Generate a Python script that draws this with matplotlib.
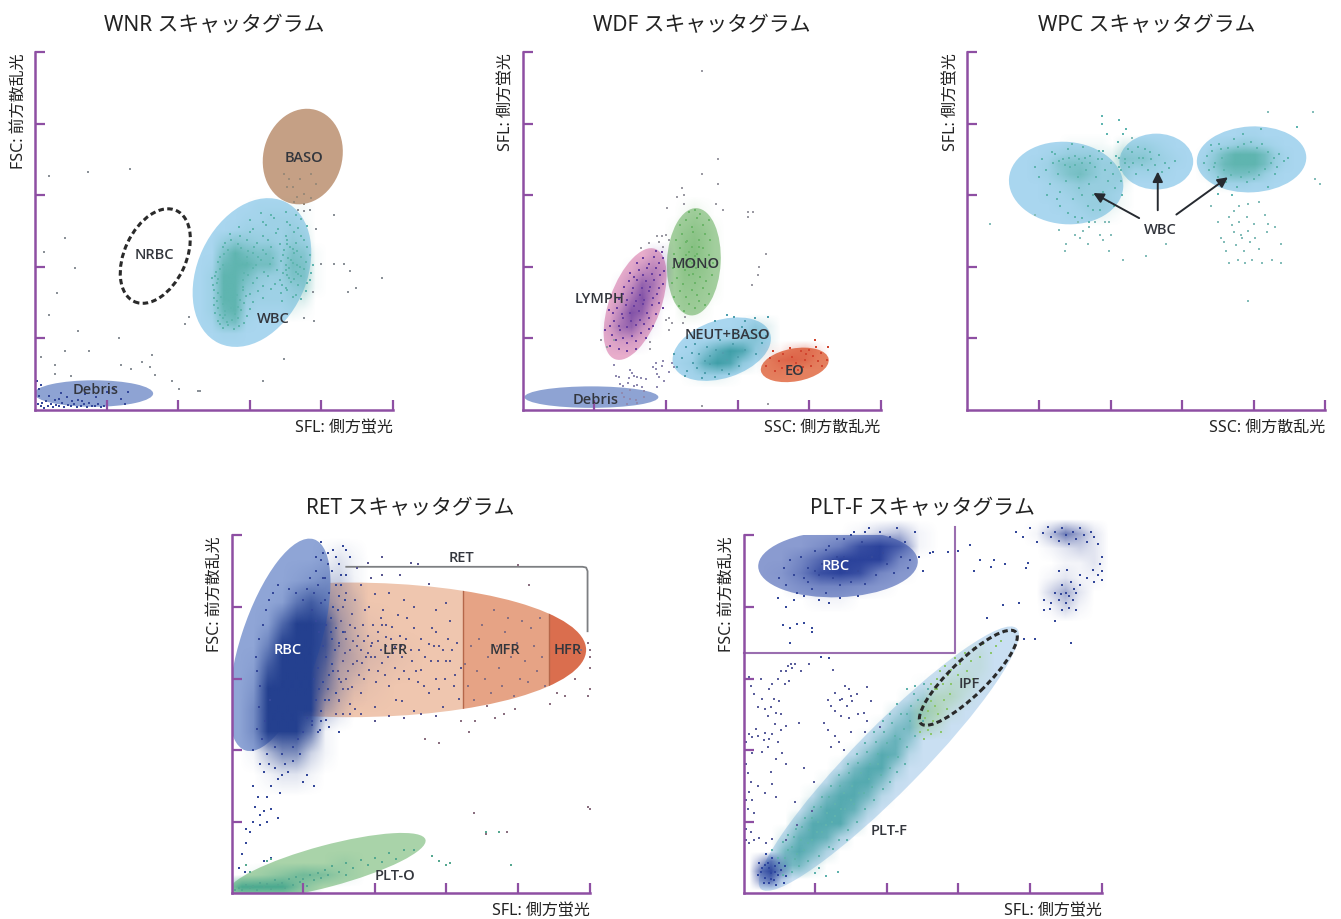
import matplotlib
matplotlib.use('Agg')
import matplotlib.pyplot as plt
import numpy as np
from matplotlib.colors import to_rgb
from matplotlib.patches import Ellipse, Rectangle

plt.rcParams['font.family'] = ['Noto Sans', 'Noto Sans CJK JP', 'DejaVu Sans']

# all values, both axes run 0-500, ticks every 100
ticks = [100, 200, 300, 400, 500]

# --- WNR ---
wnr_stray = [(19,327),(74,333),(133,337),(42,240),(13,220),(56,199),(31,164),(20,132),(60,110),(117,100),(42,83),(76,83),
             (9,74),(28,63),(28,50),(50,47),(120,63),(134,57),(150,67),(164,77),(160,60),(167,49),(192,41),(201,29),(227,27),
             (231,27),(209,120),(215,130),(319,41),(348,71),(375,129),(389,124),(418,272),(392,253),(399,204),(418,204),
             (432,204),(440,194),(448,171),(437,165),(485,185),(388,165),(368,280),(376,278),(384,279)]
wnr_baso = [(348,330),(355,322),(360,312),(370,322),(375,302),(385,330),(392,316),(366,298),(385,296),(375,288),(352,312),(362,290)]
wnr_debris = [(4,8),(8,5),(12,3),(15,12),(18,6),(22,9),(25,4),(28,14),(30,7),(34,5),(38,10),(40,4),(44,18),(46,7),(50,5),(54,9),
              (58,4),(60,14),(64,6),(68,8),(72,4),(76,10),(80,6),(84,5),(88,8),(92,4),(96,6),(100,12),(20,20),(36,24),(70,22),
              (110,30),(125,9),(130,25),(6,20),(3,40),(8,35),(6,30),(120,15),(100,25),(85,18),(10,10),(33,16),(52,13),(66,12)]
wnr_wbc = [(262,115),(270,119),(278,113),(285,117),(255,124),(262,128),(268,123),(275,126),(283,129),(292,122),(252,136),(258,132),
           (265,138),(280,134),(288,139),(296,131),(250,146),(256,142),(262,148),(284,144),(292,149),(300,141),(250,156),(254,152),
           (260,158),(286,154),(295,159),(304,151),(318,156),(345,152),(360,158),(372,155),(250,167),(255,163),(290,168),(300,162),
           (312,166),(330,169),(344,163),(352,167),(365,161),(378,166),(249,174),(254,178),(291,172),(305,178),(318,173),(335,176),
           (350,171),(358,179),(368,174),(380,177),(252,187),(256,183),(290,182),(298,188),(310,184),(325,187),(342,181),(352,189),
           (362,183),(372,187),(384,182),(253,193),(258,197),(292,192),(305,198),(320,193),(338,196),(346,191),(355,199),(364,193),
           (376,197),(386,192),(256,207),(262,203),(296,206),(308,202),(316,209),(328,204),(344,208),(350,202),(358,209),(366,203),
           (378,207),(388,202),(258,213),(264,218),(296,214),(304,219),(312,213),(322,218),(332,212),(346,217),(354,212),(362,219),
           (372,214),(384,217),(262,227),(270,223),(288,226),(298,222),(306,228),(318,223),(330,227),(348,223),(356,228),(366,222),
           (380,227),(266,233),(274,238),(284,232),(296,238),(310,233),(326,237),(342,232),(352,238),(364,233),(376,237),(272,246),
           (286,243),(300,248),(318,243),(336,247),(350,243),(362,248),(372,243),(285,256),(305,253),(322,258),(340,253),(356,258),
           (368,254),(380,257),(300,266),(318,263),(334,268),(352,263),(372,267),(315,275),(330,272),(350,276),(365,273),(258,120),
           (266,132),(274,142),(282,160),(247,185),(350,196),(360,205),(355,185),(368,190),(345,175),(360,225),(352,232),(370,200)]
wnr_wbc_density = [[0,0,0,0,1,1,1,1,1,0],
                   [0,0,0,1,1,2,2,2,1,0],
                   [0,0,1,2,2,2,2,3,2,0],
                   [0,3,5,4,3,3,2,4,3,0],
                   [0,6,9,7,6,6,3,6,5,1],
                   [1,8,9,9,7,7,3,7,6,1],
                   [2,9,9,7,4,3,3,6,6,1],
                   [2,9,9,5,3,2,2,4,5,1],
                   [2,9,9,3,2,2,2,3,3,0],
                   [2,8,9,2,1,1,1,2,1,0],
                   [1,6,7,1,0,0,0,0,0,0],
                   [0,1,1,0,0,0,0,0,0,0]]

# --- WDF ---
wdf_stray = [(250,473),(273,351),(250,330),(273,315),(222,310),(225,300),(215,298),(225,288),(270,288),(202,282),(280,280),(315,276),(322,277),
             (340,218),(330,200),(328,188),(320,174),(314,270),(250,5),(342,9),(165,226),(176,233),(187,243),(194,243),(200,245),(190,235),(196,228),
             (205,238),(178,95),(178,85),(128,98),(110,98),(118,88),(205,128),(200,126),(208,122),(226,130),(224,122),(205,112)]
wdf_low = [(127,63),(150,56),(152,52),(135,46),(148,44),(155,48),(160,46),(165,44),(172,43),(182,60),(186,57),(195,62),(190,46),(198,40),(188,50),
           (204,53),(196,68),(208,66),(212,60),(186,66),(130,48),(140,33),(160,35),(166,32),(150,28),(155,34),(138,24),(142,18),(150,16),(158,14),(170,26),
           (188,32),(146,8),(160,10),(170,18),(130,14),(136,36),(147,38)]
wdf_lymph = [(125,105),(130,98),(136,112),(140,100),(146,94),(152,104),(158,97),(165,108),(172,100),(176,113),(122,118),(128,125),(134,118),(140,128),
             (146,116),(151,124),(158,119),(164,126),(170,120),(176,128),(182,118),(126,135),(132,142),(138,134),(144,146),(150,136),(156,145),(162,138),
             (168,148),(174,136),(180,146),(186,134),(134,155),(140,162),(146,153),(152,164),(158,152),(164,161),(170,154),(176,166),(182,156),(188,162),
             (142,172),(148,180),(154,170),(160,182),(166,171),(172,180),(178,172),(184,182),(190,170),(196,176),(150,192),(156,186),(162,196),(168,188),
             (174,198),(180,190),(186,198),(192,188),(198,194),(160,206),(168,212),(176,204),(184,214),(190,206),(196,212),(186,222),(194,220),(134,85),
             (122,90),(115,112),(158,85),(145,82),(120,140),(190,150),(196,142)]
wdf_lymph_density = [[0,0,0,0,2,2],
                     [0,0,1,3,4,3],
                     [0,1,3,6,5,2],
                     [0,2,5,7,4,1],
                     [1,4,7,6,2,0],
                     [2,5,6,3,1,0],
                     [1,2,2,1,0,0]]
wdf_mono = [(218,145),(225,138),(232,148),(240,142),(246,152),(254,146),(212,158),(220,166),(228,158),(236,168),(244,160),(252,170),(260,162),
            (208,178),(216,184),(224,176),(232,188),(240,178),(248,186),(256,180),(264,188),(210,198),(218,206),(226,196),(234,208),(242,198),(250,206),
            (258,198),(266,205),(212,218),(220,226),(228,216),(236,228),(244,218),(252,226),(260,216),(214,238),(222,246),(230,236),(238,248),(246,238),
            (254,246),(262,238),(220,258),(228,266),(236,256),(244,268),(252,258),(260,266),(232,276),(240,280),(248,274),(236,205),(232,220),(240,215),
            (230,200),(238,190),(228,235),(246,228)]
wdf_mono_density = [[0,1,2,1,0],
                    [1,3,4,3,1],
                    [1,4,5,3,1],
                    [1,4,4,3,1],
                    [1,3,3,2,1],
                    [0,2,2,1,0]]
wdf_neut = [(215,60),(222,72),(230,54),(238,66),(246,78),(254,52),(262,64),(270,84),(278,56),(286,70),(294,92),(302,62),(310,84),(318,100),(326,78),
            (334,94),(228,88),(240,92),(250,44),(268,46),(288,50),(300,74),(312,108),(322,112),(330,108),(340,104),(310,125),(295,130),(325,128),(342,130),
            (286,132),(268,125),(306,116),(226,48),(212,78),(236,80),(258,88),(276,98),(296,108),(254,68),(262,76),(280,80),(244,58)]
wdf_neut_density = [[0,0,0,0,0,1,3,2],
                    [0,0,0,1,2,3,4,2],
                    [0,1,4,7,9,8,3,1],
                    [1,2,7,9,8,3,1,0],
                    [0,1,2,2,1,0,0,0]]
wdf_eo = [(340,62),(346,72),(352,55),(358,68),(364,78),(370,60),(376,74),(382,66),(388,82),(394,70),(400,84),(406,76),(412,68),(418,62),(350,82),(362,58),
          (374,86),(392,60),(402,62),(410,88),(416,80),(426,88),(408,98),(425,70),(384,56),(396,78)]
wdf_eo_density = [[1,1,3,4,2],
                  [1,4,5,4,1],
                  [1,2,1,0,0]]

# --- WPC ---
wpc_left = [(95,340),(100,325),(105,350),(110,335),(115,315),(120,345),(122,358),(126,330),(130,305),(134,350),(138,320),(140,365),(144,340),(148,295),
            (150,355),(154,325),(156,310),(160,345),(162,368),(166,335),(168,285),(170,315),(172,355),(176,300),(178,340),(180,325),(184,362),(186,280),
            (188,350),(190,305),(192,335),(196,320),(198,290),(200,345),(204,330),(206,310),(208,355),(212,340),(214,320),(216,300),(130,285),(140,275),
            (150,270),(160,268),(170,262),(125,295),(112,300),(118,360),(146,372),(156,350),(164,352),(150,342),(142,352),(172,345),(182,350),(190,362),
            (136,342),(128,348),(160,300),(175,280),(188,295),(205,285),(212,352),(220,345)]
wpc_left_density = [[0,0,0,1,1,1,1,0,0],
                    [0,1,2,3,3,3,2,2,1],
                    [1,2,5,6,6,5,3,3,2],
                    [1,2,4,6,7,5,3,3,3],
                    [0,1,2,3,4,3,3,3,2],
                    [0,1,1,2,3,3,3,2,1],
                    [0,0,1,1,2,3,3,2,1],
                    [0,0,0,1,1,2,2,1,0]]
wpc_mid = [(214,335),(220,350),(226,340),(230,360),(235,330),(240,352),(244,342),(248,365),(252,335),(256,350),(262,342),(268,356),(272,332),(276,345),
           (282,338),(290,348),(238,368),(225,365),(255,360),(232,345),(246,352),(210,375),(218,385),(188,410),(195,386),(188,400),(212,405),(222,392)]
wpc_mid_density = [[3,3,3,2,1,0],
                   [5,5,5,3,2,1],
                   [2,2,2,2,1,0]]
wpc_right = [(330,345),(335,355),(338,335),(342,362),(346,345),(350,325),(352,372),(356,352),(358,335),(362,318),(364,366),(368,328),(372,378),(376,312),
             (378,368),(382,326),(386,372),(390,318),(394,332),(396,374),(400,322),(404,366),(408,328),(412,372),(416,336),(420,360),(424,345),(428,352),
             (432,340),(436,358),(442,348),(448,352),(340,370),(350,302),(370,300),(385,385),(410,392),(430,330),(345,340),(354,364),(460,395),(420,312)]
wpc_right_density = [[0,0,0,0,1,1,0,0,0],
                     [0,1,2,3,4,3,2,1,0],
                     [1,4,7,9,9,9,7,3,1],
                     [2,5,8,9,9,9,7,3,1],
                     [1,3,6,7,7,6,3,1,0],
                     [0,1,2,2,2,1,1,0,0]]
wpc_lower = [(155,262),(158,240),(162,250),(168,232),(170,255),(178,262),(185,245),(190,238),(192,262),(198,262),(200,245),(198,222),(136,222),(138,232),
             (150,245),(128,252),(94,272),(32,260),(278,232),(218,210),(340,285),(350,262),(354,240),(358,235),(362,222),(365,205),(370,258),(372,248),
             (375,230),(378,210),(380,262),(382,245),(384,240),(386,222),(388,205),(390,270),(392,250),(395,235),(398,210),(400,260),(402,240),(408,225),
             (412,205),(416,272),(418,248),(420,260),(425,210),(430,255),(438,232),(438,205),(372,278),(380,285),(392,288),(408,290),(392,152),(365,270),
             (486,322),(492,315),(420,416),(483,416),(250,215),(230,380)]

# --- RET ---
ret_rbc_edge = [(30,200),(35,230),(38,260),(42,215),(46,240),(50,195),(54,270),(40,290),(36,310),(34,330),(38,355),(44,375),(48,395),(52,410),(58,420),(64,430),
                (125,255),(130,270),(134,285),(128,295),(136,305),(140,320),(132,330),(144,340),(140,355),(146,370),(138,385),(142,400),(150,415),(136,420),(130,410),
                (146,430),(152,445),(140,450),(128,440),(120,430),(110,440),(118,450),(125,465),(135,475),(145,470),(155,485),(125,490),(135,460),(115,420),(105,425),
                (100,410),(90,420),(80,425),(125,405),(132,375),(122,365),(118,380),(112,395),(128,345),(120,315),(115,300),(122,285),(118,270),(105,245),(112,235),
                (100,225),(92,215),(85,205),(95,195),(70,195),(60,205),(75,180),(60,175),(52,180),(45,170),(55,150),(65,160),(70,165),(40,180),(85,185),(78,170),
                (30,150),(37,135),(50,135),(68,140),(32,120),(45,115),(55,118),(30,100),(40,110),(20,90),(25,85),(40,95),(50,100),(65,105),(20,70),(15,55),(45,45),
                (55,50),(10,35),(18,30),(100,155),(105,165),(115,150),(124,228),(136,232),(150,225),(132,242),(112,240),(150,350),(155,365),(148,395),(158,410),(152,430),
                (160,445),(165,470),(130,440),(118,470),(142,480),(150,460),(160,480),(128,475),(138,365),(142,310),(150,300),(136,270),(146,280),(125,240),(120,225)]
ret_rbc_density = [[0,0,0,0,0,1,2,1],
                   [0,0,0,1,2,3,3,1],
                   [0,0,1,5,7,5,3,2],
                   [0,1,6,9,9,8,4,2],
                   [0,4,9,9,9,8,4,2],
                   [1,7,9,9,9,7,3,2],
                   [2,9,9,9,9,6,3,1],
                   [3,9,9,9,9,4,2,0],
                   [3,9,9,9,7,1,0,0],
                   [1,4,6,6,3,1,0,0],
                   [0,1,2,2,1,0,0,0]]
ret_lfr = [(145,250),(150,268),(156,285),(160,300),(165,265),(170,320),(175,345),(180,280),(185,300),(190,360),(195,330),(200,260),(205,310),(210,375),(215,345),
           (220,290),(225,335),(230,270),(235,360),(240,310),(245,385),(250,340),(255,255),(260,295),(265,355),(270,330),(275,280),(280,370),(285,300),(290,345),
           (295,260),(300,325),(305,380),(310,290),(315,350),(320,315),(150,345),(152,380),(155,400),(158,365),(160,420),(165,340),(168,390),(172,410),(176,360),
           (180,430),(184,375),(188,330),(192,400),(196,350),(200,418),(204,365),(208,340),(212,395),(216,358),(220,420),(224,372),(228,344),(232,388),(236,345),
           (155,325),(160,355),(165,375),(170,352),(175,325),(180,340),(185,352),(190,335),(195,345),(200,330),(205,352),(210,322),(215,375),(255,370),(265,312),
           (275,348),(285,365),(295,340),(305,325),(312,305),(318,272),(290,285),(258,310),(238,268),(220,248),(265,250),(240,245),(285,248),(180,250),(200,240),
           (300,405),(285,395),(240,410),(255,400),(195,440),(210,445),(235,445),(260,460),(175,455),(190,462),(210,470),(250,462),(275,432),(148,310),(152,295),(158,335),
           (163,310),(168,288),(172,370),(178,305),(182,322),(186,395),(192,312),(198,375),(202,295),(208,385),(214,305),(218,330),(222,355),(228,315),(234,300),(238,330),
           (244,355),(248,300),(252,325),(262,340),(268,290),(278,325),(282,345),(288,325),(298,300),(302,355),(308,340),(150,270),(155,250),(165,250),(172,258),(162,285)]
ret_lfr_density = [[1,0,0,0],
                   [1,1,0,0],
                   [2,2,1,0],
                   [1,1,0,0]]
ret_mfr = [(326,320),(330,290),(334,345),(338,270),(342,310),(346,355),(350,375),(354,300),(358,330),(362,280),(366,395),(370,345),(374,315),(378,290),(382,365),
           (386,385),(390,330),(394,275),(398,350),(402,300),(406,380),(410,325),(414,295),(418,370),(422,345),(426,310),(430,385),(434,330),(438,290),(380,250),
           (340,240),(356,262),(368,245),(332,225),(396,258),(445,265),(455,280),(465,275),(480,300),(488,340),(497,350),(500,330),(500,315),(500,340),(497,275),
           (500,285),(500,340),(415,430),(400,458),(497,120),(500,118),(338,112),(355,83),(385,85),(320,240),(270,216),(290,210)]
ret_plt = [(5,5),(10,8),(15,4),(20,12),(25,7),(30,10),(35,5),(40,15),(45,9),(50,13),(55,6),(60,18),(65,11),(70,15),(75,8),(80,20),(85,12),(90,23),(95,16),(100,20),
           (105,10),(110,25),(115,18),(120,28),(125,22),(130,33),(135,26),(140,38),(150,30),(160,42),(170,36),(180,46),(190,40),(200,50),(210,44),(220,56),(230,48),
           (240,60),(255,60),(160,25),(20,40),(25,30),(50,45),(55,48),(280,52),(290,45),(300,40),(305,42),(390,40),(373,85),(355,85)]
ret_plt_density = [[0,0,0,0,0,2],
                   [0,2,4,6,5,2],
                   [9,9,9,4,0,0]]

# --- PLT-F ---
plt_rbc = [(50,440),(56,455),(60,430),(65,465),(70,445),(75,420),(80,470),(85,440),(90,455),(95,425),(100,478),(105,445),(110,460),(115,420),(120,485),(125,440),
           (130,470),(135,430),(140,495),(145,450),(150,435),(155,505),(160,450),(165,490),(170,432),(175,510),(180,470),(185,445),(190,505),(195,475),(200,460),
           (205,498),(210,448),(215,510),(220,470),(225,490),(230,455),(240,505),(250,450),(70,410),(85,415),(105,410),(120,405),(135,412),(160,415),(60,400),(55,375),
           (65,370),(75,376),(85,377),(65,350),(95,365),(48,412),(90,435),(100,450),(125,465),(140,470),(115,480),(130,495),(150,500),(170,505),(245,470),(233,465),
           (260,475),(95,370),(120,328),(108,330)]
plt_rbc_density = [[0,0,0,0,1,3,4,1],
                   [0,0,2,4,8,9,7,1],
                   [0,3,6,9,9,9,3,0],
                   [1,4,8,9,8,3,1,0],
                   [0,2,3,3,2,1,0,0],
                   [0,0,1,1,0,0,0,0]]
plt_ur = [(380,505),(390,498),(400,510),(410,490),(418,503),(425,512),(430,497),(435,505),(440,492),(445,510),(450,500),(455,488),(460,505),(465,495),(470,510),(475,500),
          (480,490),(485,505),(490,497),(495,488),(500,470),(498,460),(500,450),(495,445),(490,435),(500,438),(488,452),(480,440),(470,430),(462,425),(455,415),(450,420),
          (445,430),(440,410),(450,405),(455,398),(460,410),(465,420),(458,435),(470,445),(445,395),(435,420),(444,418),(440,450),(452,452),(465,395),(430,405),(420,410),
          (300,478),(316,487),(330,465),(322,450),(350,465),(365,460),(345,456),(395,455),(398,461),(285,477),(265,477),(435,380),(420,395),(385,405),(362,402),(340,385),
          (392,355),(407,355),(458,350),(428,397)]
plt_ur_density = [[0,1,4,7,5,2],
                  [0,0,1,2,3,2],
                  [0,0,0,1,1,2],
                  [0,0,1,2,1,1],
                  [0,0,3,5,2,0],
                  [0,0,1,3,1,0]]
plt_left = [(7,302),(10,290),(14,278),(25,300),(35,285),(40,292),(48,300),(52,310),(60,310),(62,318),(66,320),(68,315),(58,292),(64,296),(72,320),(80,310),(92,320),
            (125,312),(50,268),(42,272),(38,260),(46,252),(52,250),(30,258),(34,248),(20,260),(26,272),(44,236),(52,228),(40,222),(30,224),(18,230),(28,214),(7,222),(12,218),
            (20,220),(36,215),(48,212),(60,234),(78,238),(4,212),(8,200),(12,196),(26,198),(34,204),(46,188),(54,196),(4,180),(6,168),(10,155),(8,142),(4,130),(12,130),
            (6,118),(14,112),(8,100),(4,90),(10,85),(4,75),(8,70),(14,75),(22,77),(30,140),(40,153),(46,135),(38,170),(20,150),(72,127),(32,70),(40,76),(60,180),(84,175),
            (98,155),(96,115),(75,95),(60,75),(128,280),(135,270),(145,262),(150,275),(148,285),(142,290),(138,272),(152,268),(158,278),(122,262),(118,270),(128,255),
            (136,248),(148,245),(160,250),(168,252),(172,240),(112,238),(128,220),(134,212),(140,200),(122,205),(150,225),(170,225),(190,232),(172,288),(178,268),(118,228)]
plt_wbc = [(40,60),(48,50),(55,72),(62,60),(70,78),(75,55),(82,92),(90,70),(95,105),(102,85),(108,120),(115,95),(120,135),(128,108),(135,150),(142,118),(148,168),(155,125),
           (160,182),(168,140),(172,198),(180,148),(185,212),(192,165),(196,225),(204,175),(208,238),(216,190),(220,250),(228,205),(234,262),(240,220),(244,270),(232,240),
           (224,230),(212,220),(200,210),(188,195),(176,180),(164,168),(152,150),(140,140),(128,125),(116,112),(104,100),(92,88),(80,75),(68,65),(58,50),(246,250),(238,278),
           (215,265),(205,250),(195,240),(182,225),(170,210),(158,195),(146,180),(134,165),(122,150),(110,135),(98,120),(86,105),(74,90),(62,82),(215,170),(205,155),(195,145),
           (182,130),(170,118),(158,100),(146,88),(134,75),(120,65),(105,52),(90,45),(78,38),(68,30),(55,25),(250,240),(258,285),(252,292),(240,290),(228,285),(132,30),(115,24),
           (100,28),(105,35),(125,62),(145,74),(225,180),(218,215),(202,190),(228,250),(188,180),(175,160),(162,140),(150,130),(136,118),(124,100),(110,85),(96,75),(84,60),(72,48)]
plt_main_density = [[0,0,0,0,0,0,0,0,0,0,0,1],
                    [0,0,0,0,0,0,0,0,0,0,2,4],
                    [0,0,0,0,0,0,0,0,0,3,6,4],
                    [0,0,0,0,0,0,0,0,2,6,7,2],
                    [0,0,0,0,0,0,0,2,6,8,5,0],
                    [0,0,0,0,0,0,2,6,9,8,2,0],
                    [0,0,0,0,0,2,7,9,9,4,0,0],
                    [0,0,0,0,2,7,9,9,6,1,0,0],
                    [0,0,0,2,7,9,9,7,2,0,0,0],
                    [0,0,1,6,9,9,8,3,0,0,0,0],
                    [0,0,5,9,9,9,4,0,0,0,0,0],
                    [0,3,8,9,8,3,0,0,0,0,0,0],
                    [0,7,9,7,3,0,0,0,0,0,0,0],
                    [3,7,7,3,0,0,0,0,0,0,0,0]]
plt_ipf = [(250,235),(246,225),(254,245),(258,255),(250,262),(262,268),(256,272),(268,285),(262,292),(270,300),(278,292),(275,310),(285,305),(282,318),(290,312),(295,328),(302,320),
           (310,335),(318,325),(322,342),(335,348),(345,335),(352,345),(360,352),(264,240),(272,250),(268,262),(280,270),(288,278),(258,228),(276,225),(252,215),(300,305),(290,292),
           (312,310),(330,330),(320,300),(262,222),(270,285),(284,258)]
plt_ipf_density = [[0,0,0,1,2],
                   [0,0,1,2,2],
                   [0,1,3,3,1],
                   [1,4,4,2,0],
                   [4,5,2,0,0],
                   [4,3,0,0,0]]
plt_base = [(20,25),(26,35),(30,22),(34,42),(38,28),(42,18),(44,38),(48,25),(52,32),(56,15),(28,15),(36,14),(46,12),(58,38),(60,24),(22,42),(32,55),(40,50),(24,30),(36,35),(50,42),(30,40),(44,30),(38,20)]
plt_base_density = [[4,7,3],
                    [7,9,5],
                    [5,7,2]]


def setup_axes(left, bottom, title, xlabel, ylabel):
    ax = fig.add_axes([left / W, 1 - bottom / H, 358 / W, 358 / H])
    ax.set_xticks(ticks)
    ax.set_yticks(ticks)
    ax.set_xticklabels([])
    ax.set_yticklabels([])
    ax.tick_params(direction='in', length=7.5, width=1.6, color=purple)
    for s in ['top', 'right']:
        ax.spines[s].set_visible(False)
    for s in ['left', 'bottom']:
        ax.spines[s].set_color(purple)
        ax.spines[s].set_linewidth(1.8)
    ax.set_title(title, fontsize=15, pad=16, color='#222222')
    ax.text(500, -24, xlabel, ha='right', va='center', fontsize=11.5, color='#222222')
    ax.text(-23, 500, ylabel, ha='center', va='top', rotation=90, fontsize=11.5, color='#222222')
    ax.set_xlim(0, 500)
    ax.set_ylim(0, 500)
    return ax


def oval(ax, x, y, w, h, angle, color, alpha=1.0, z=1.0):
    e = Ellipse((x, y), w, h, angle=angle, facecolor=color, edgecolor='none', alpha=alpha, zorder=z)
    ax.add_patch(e)
    return e


def dashed_oval(ax, x, y, w, h, angle):
    e = Ellipse((x, y), w, h, angle=angle, fill=False, edgecolor='#2a2a2a', linewidth=2.2, linestyle=(0, (1.8, 1.1)), zorder=1.6)
    ax.add_patch(e)


def density(ax, grid, x0, x1, y0, y1, color, clip=True):
    g = np.pad(np.array(grid, dtype=float) / 9, 1)
    dx = (x1 - x0) / (g.shape[1] - 2)
    dy = (y1 - y0) / (g.shape[0] - 2)
    rgba = np.zeros(g.shape + (4,))
    rgba[..., :3] = to_rgb(color)
    rgba[..., 3] = g ** 1.3
    ax.imshow(rgba, extent=(x0 - dx, x1 + dx, y0 - dy, y1 + dy), aspect='auto', interpolation='bilinear',
              zorder=1.2, clip_on=clip)
    ax.set_xlim(0, 500)
    ax.set_ylim(0, 500)


def dots(ax, points, color, s=4):
    xs, ys = zip(*points)
    ax.scatter(xs, ys, s=s, c=color, marker='s', linewidths=0, zorder=1.5, clip_on=False)


def label(ax, x, y, txt, color='#33363d'):
    ax.text(x, y, txt, ha='center', va='center', fontsize=10.5, family='Open Sans', fontweight='semibold', color=color, zorder=5)


W, H = 1341, 920
purple = '#8e4fa3'
blue = '#a9d6ef'
debris = '#8ea3d3'
teal = '#5fb5b0'
navy = '#34489a'
gray = '#8b9198'
fig = plt.figure(figsize=(W / 100, H / 100), dpi=100)

# WNR
ax = setup_axes(35, 411, 'WNR スキャッタグラム', 'SFL: 側方蛍光', 'FSC: 前方散乱光')
oval(ax, 374, 354, 110, 135, -15, '#c5a085')
oval(ax, 303, 192, 152, 218, -25, blue)
oval(ax, 82, 23, 166, 37, 0, debris)
density(ax, wnr_wbc_density, 240, 400, 98, 290, teal)
dashed_oval(ax, 168, 215, 86, 140, -25)
dots(ax, wnr_stray, gray, 3)
dots(ax, wnr_baso, '#9b8a78', 3)
dots(ax, wnr_debris, navy, 3)
dots(ax, wnr_wbc, teal)
label(ax, 376, 354, 'BASO')
label(ax, 167, 218, 'NRBC')
label(ax, 333, 129, 'WBC')
label(ax, 85, 29, 'Debris')

# WDF
ax = setup_axes(522.7, 411, 'WDF スキャッタグラム', 'SSC: 側方散乱光', 'SFL: 側方蛍光')
oval(ax, 157, 148, 72, 164, -20, '#e8adcb')
oval(ax, 239, 207, 75, 150, -3, '#a6d0a1')
oval(ax, 278, 85, 142, 81, 18, blue)
oval(ax, 380, 63, 96, 46, 10, '#e5805f')
oval(ax, 96, 18, 187, 30, 0, debris)
density(ax, wdf_lymph_density, 115, 205, 85, 225, '#5a2f9a')
density(ax, wdf_mono_density, 205, 275, 130, 285, '#5fae5c')
density(ax, wdf_neut_density, 210, 350, 40, 125, '#3f9fa8')
density(ax, wdf_eo_density, 335, 420, 50, 90, '#d2402b')
dots(ax, wdf_stray, '#9b9aa3', 3)
dots(ax, wdf_low, '#8f8ab0', 3)
dots(ax, wdf_lymph, '#6a3fa0', 3)
dots(ax, wdf_mono, '#6cb569', 3)
dots(ax, wdf_neut, '#4f9fae', 3)
dots(ax, wdf_eo, '#d2452f', 3)
label(ax, 107, 157, 'LYMPH')
label(ax, 241, 205, 'MONO')
label(ax, 286, 106, 'NEUT+BASO')
label(ax, 380, 56, 'EO')
label(ax, 102, 15, 'Debris')

# WPC
ax = setup_axes(967.3, 411, 'WPC スキャッタグラム', 'SSC: 側方散乱光', 'SFL: 側方蛍光')
oval(ax, 138, 317, 160, 115, -5, blue)
oval(ax, 264, 347, 103, 78, 0, blue)
oval(ax, 397, 350, 153, 92, 3, blue)
density(ax, wpc_left_density, 90, 225, 265, 380, teal)
density(ax, wpc_mid_density, 210, 300, 325, 375, teal)
density(ax, wpc_right_density, 325, 450, 310, 390, teal)
dots(ax, wpc_left, teal, 3)
dots(ax, wpc_mid, teal, 3)
dots(ax, wpc_right, teal, 3)
dots(ax, wpc_lower, '#84bdb9', 3)
for tail, head in [((240, 268), (176, 303)), ((266, 279), (266, 333)), ((292, 273), (364, 325))]:
    ax.annotate('', xy=head, xytext=tail, zorder=4,
                arrowprops=dict(arrowstyle='-|>', color='#262a30', lw=1.4, mutation_scale=15, shrinkA=0, shrinkB=0))
label(ax, 270, 253, 'WBC')

# RET
ax = setup_axes(231.7, 894.3, 'RET スキャッタグラム', 'SFL: 側方蛍光', 'FSC: 前方散乱光')
zones = [(100, 223, '#efc6af'), (323, 120, '#e6a385'), (443, 57, '#da6e4e')]
for x0, w, c in zones:
    z = oval(ax, 165, 340, 660, 188, 0, c)
    z.set_clip_path(Rectangle((x0, 0), w, 500, transform=ax.transData))
    if x0 > 100:
        v = ax.axvline(x0, color='#b5674a', lw=1, zorder=1.1)
        v.set_clip_path(z.get_path(), z.get_transform())
oval(ax, 67, 347, 110, 310, -18, '#8fa5d6', 1.0, 1.15)
oval(ax, 133, 38, 285, 58, 15, '#a9d3a9')
density(ax, ret_lfr_density, 130, 290, 270, 430, '#57558f')
density(ax, ret_rbc_density, 20, 180, 150, 480, '#24408f')
density(ax, ret_plt_density, 0, 170, 0, 50, '#4aa98f')
ax.plot([160, 490, 495, 497, 497], [456, 456, 455, 450, 366], color='#7d7f82', lw=1.3, zorder=1.3)
dots(ax, ret_rbc_edge, navy)
dots(ax, ret_lfr, '#57558f', 3.5)
dots(ax, ret_mfr, '#8a6f80', 3)
dots(ax, ret_plt, '#55a890', 3)
label(ax, 321, 470, 'RET')
label(ax, 78, 341, 'RBC', 'white')
label(ax, 228, 341, 'LFR')
label(ax, 382, 341, 'MFR')
label(ax, 469, 341, 'HFR')
label(ax, 228, 25, 'PLT-O')

# PLT-F
ax = setup_axes(743.5, 894.3, 'PLT-F スキャッタグラム', 'SFL: 側方蛍光', 'FSC: 前方散乱光')
oval(ax, 203, 188, 510, 92, 45.5, '#c9dff2')
oval(ax, 132, 460, 223, 93, 2, '#8a9bd0')
density(ax, plt_rbc_density, 40, 260, 400, 512, '#2b429b', False)
density(ax, plt_ur_density, 380, 500, 390, 512, navy, False)
density(ax, plt_main_density, 30, 260, 30, 300, '#55aab0')
density(ax, plt_ipf_density, 240, 340, 225, 345, '#8cc66f')
density(ax, plt_base_density, 15, 60, 10, 50, '#2f479f')
ax.plot([0, 295, 295], [335, 335, 512], color='#9a6eb0', lw=1.5, zorder=1.4, clip_on=False)
dots(ax, plt_rbc, navy, 3.5)
dots(ax, plt_ur, navy, 3.5)
dots(ax, plt_left, '#5a5f9c', 3)
dots(ax, plt_wbc, '#5fb2ad', 3.5)
dots(ax, plt_ipf, '#8cc66f', 3)
dots(ax, plt_base, '#2f479f', 3.5)
dashed_oval(ax, 314, 301, 184, 50, 44)
label(ax, 129, 459, 'RBC', 'white')
label(ax, 315, 294, 'IPF')
label(ax, 204, 89, 'PLT-F')

fig.savefig('out.png', dpi=100)
